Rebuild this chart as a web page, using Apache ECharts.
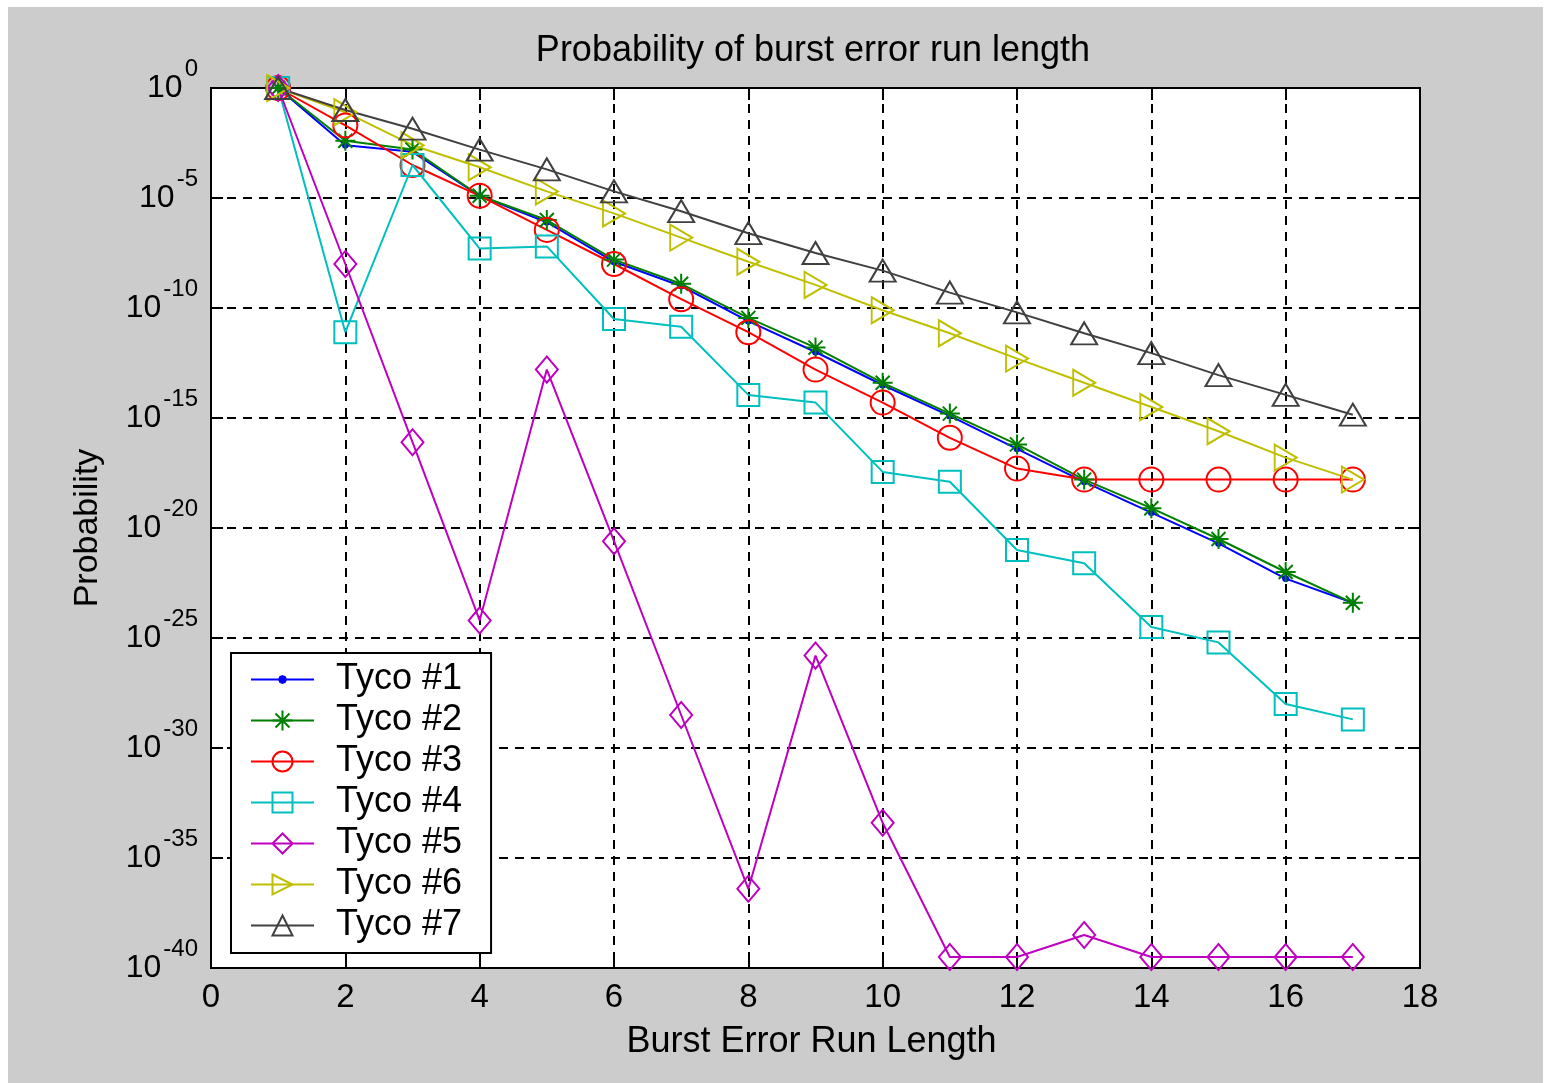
<!DOCTYPE html>
<html>
<head>
<meta charset="utf-8">
<title>Probability of burst error run length</title>
<script src="https://cdn.jsdelivr.net/npm/echarts@6/dist/echarts.min.js"></script>
<style>
	html, body { margin:0; padding:0; background:#fff; }
	#chart { position:absolute; left:8px; top:7px; width:1535px; height:1076px; background:#cccccc; }
</style>
</head>
<body>
<div id="chart"></div>
<script>
	// run length on x, log10(probability) on y
	var runLength = [1, 2, 3, 4, 5, 6, 7, 8, 9, 10, 11, 12, 13, 14, 15, 16, 17]
	var tyco1 = [0, -2.6, -2.9, -4.9, -6.1, -7.9, -9.0, -10.6, -12.0, -13.5, -14.9, -16.4, -17.9, -19.3, -20.7, -22.3, -23.4]
	var tyco2 = [0, -2.4, -2.8, -4.9, -6.0, -7.8, -8.9, -10.45, -11.8, -13.4, -14.8, -16.2, -17.8, -19.1, -20.5, -22.0, -23.4]
	var tyco3 = [0, -1.7, -3.5, -4.9, -6.45, -8.0, -9.6, -11.1, -12.8, -14.3, -15.9, -17.3, -17.8, -17.8, -17.8, -17.8, -17.8]
	var tyco4 = [0, -11.1, -3.5, -7.3, -7.2, -10.5, -10.85, -13.95, -14.3, -17.45, -17.9, -21.0, -21.6, -24.5, -25.2, -28.0, -28.7]
	var tyco5 = [0, -8.0, -16.1, -24.2, -12.8, -20.6, -28.5, -36.4, -25.8, -33.4, -39.5, -39.5, -38.5, -39.5, -39.5, -39.5, -39.5]
	var tyco6 = [0, -1.1, -2.6, -3.6, -4.7, -5.7, -6.8, -7.9, -8.95, -10.1, -11.15, -12.3, -13.4, -14.5, -15.6, -16.8, -17.8]
	var tyco7 = [0, -1.0, -1.85, -2.8, -3.7, -4.7, -5.6, -6.6, -7.5, -8.3, -9.3, -10.2, -11.15, -12.05, -13.05, -13.95, -14.85]
	var seriesNames = ['Tyco #1', 'Tyco #2', 'Tyco #3', 'Tyco #4', 'Tyco #5', 'Tyco #6', 'Tyco #7']
	var xTicks = {min: 0, max: 18, step: 2}
	var yTicks = {min: -40, max: 0, step: 5}

	var font = 'Liberation Sans, Arial, sans-serif'
	var colors = ['#0000ff', '#008000', '#ff0000', '#00bfbf', '#bf00bf', '#bfbf00', '#404040']
	// matlab style markers: . * o s d > ^
	var dotPath = 'path://M0,0M10,10M5,3.3L6.2,3.8L6.7,5L6.2,6.2L5,6.7L3.8,6.2L3.3,5L3.8,3.8Z'
	var starPath = 'path://M5,0L5,10M0,5L10,5M1.5,1.5L8.5,8.5M8.5,1.5L1.5,8.5'
	var rightTriPath = 'path://M0,0L10,5L0,10Z'
	var symbols = [dotPath, starPath, 'circle', 'rect', 'diamond', rightTriPath, 'triangle']
	var sizes = [22, 20, 24, 22, [22, 26], [22, 26], [26, 22]]

	var allValues = [tyco1, tyco2, tyco3, tyco4, tyco5, tyco6, tyco7]

	function makeSeries(i){
		var values = allValues[i]
		return {
			name: seriesNames[i],
			type: 'line',
			data: runLength.map(function(x, k){ return [x, values[k]] }),
			symbol: symbols[i],
			symbolSize: sizes[i],
			showAllSymbol: true,
			lineStyle: {color: colors[i], width: 2},
			itemStyle: {
				color: i < 2 ? colors[i] : 'rgba(0,0,0,0)',
				borderColor: colors[i],
				borderWidth: i == 0 ? 0 : 2
			},
			emphasis: {disabled: true}
		}
	}

	var chart = echarts.init(document.getElementById('chart'))
	var option = {
		animation: false,
		graphic: [{
			type: 'text',
			x: 805,
			y: 44,
			style: {
				text: 'Probability of burst error run length',
				fontSize: 36,
				fontFamily: font,
				fill: '#000',
				align: 'center',
				verticalAlign: 'middle'
			}
		}],
		grid: {
			left: 203,
			top: 81,
			right: 123,
			bottom: 115,
			show: true,
			backgroundColor: '#fff',
			borderColor: '#000',
			borderWidth: 2
		},
		legend: {
			orient: 'vertical',
			left: 223,
			top: 646,
			data: seriesNames,
			backgroundColor: '#fff',
			borderColor: '#000',
			borderWidth: 2,
			borderRadius: 0,
			padding: [6, 29, 7, 19],
			itemWidth: 63,
			itemHeight: 25,
			itemGap: 0,
			selectedMode: false,
			itemStyle: {borderWidth: 2},
			lineStyle: {width: 2},
			textStyle: {fontSize: 36, fontFamily: font, color: '#000', lineHeight: 41, padding: [0, 0, 0, 17]}
		},
		xAxis: [{
			type: 'value',
			position: 'bottom',
			min: xTicks.min,
			max: xTicks.max,
			interval: xTicks.step,
			name: 'Burst Error Run Length',
			nameLocation: 'middle',
			nameGap: 56,
			nameTextStyle: {fontSize: 36, fontFamily: font, color: '#000', padding: [0, 8, 0, 0]},
			axisLine: {show: true, onZero: false, lineStyle: {color: '#000', width: 2}},
			axisTick: {inside: true, length: 12, lineStyle: {color: '#000', width: 2}},
			axisLabel: {fontSize: 33, fontFamily: font, color: '#000', margin: 13},
			splitLine: {show: true, lineStyle: {color: '#000', width: 2, type: [9, 7]}}
		}, {
			type: 'value',
			position: 'top',
			min: xTicks.min,
			max: xTicks.max,
			interval: xTicks.step,
			axisLine: {show: true, onZero: false, lineStyle: {color: '#000', width: 2}},
			axisTick: {inside: true, length: 12, lineStyle: {color: '#000', width: 2}},
			axisLabel: {show: false},
			splitLine: {show: false}
		}],
		yAxis: [{
			type: 'value',
			position: 'left',
			min: yTicks.min,
			max: yTicks.max,
			interval: yTicks.step,
			name: 'Probability',
			nameLocation: 'middle',
			nameGap: 106,
			nameTextStyle: {fontSize: 34, fontFamily: font, color: '#000'},
			axisLine: {show: true, onZero: false, lineStyle: {color: '#000', width: 2}},
			axisTick: {inside: true, length: 12, lineStyle: {color: '#000', width: 2}},
			axisLabel: {
				margin: 13,
				formatter: function(v){ return '{b|10}{s|' + v + '}' },
				rich: {
					b: {fontSize: 32, fontFamily: font, color: '#000', lineHeight: 62, padding: [0, 2, 0, 0]},
					s: {fontSize: 24, fontFamily: font, color: '#000', lineHeight: 24, verticalAlign: 'top'}
				}
			},
			splitLine: {show: true, lineStyle: {color: '#000', width: 2, type: [9, 7]}}
		}, {
			type: 'value',
			position: 'right',
			min: yTicks.min,
			max: yTicks.max,
			interval: yTicks.step,
			axisLine: {show: true, onZero: false, lineStyle: {color: '#000', width: 2}},
			axisTick: {inside: true, length: 12, lineStyle: {color: '#000', width: 2}},
			axisLabel: {show: false},
			splitLine: {show: false}
		}],
		series: seriesNames.map(function(n, i){ return makeSeries(i) })
	}
	chart.setOption(option)
</script>
</body>
</html>
